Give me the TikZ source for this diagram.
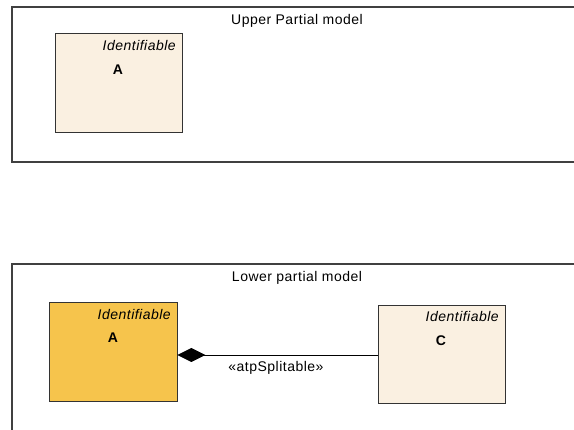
\documentclass[tikz,border=0pt]{standalone}
\usepackage{fontspec}
\setmainfont[LetterSpace=3.5]{Liberation Sans}
\usetikzlibrary{arrows.meta}
\definecolor{beige}{HTML}{FAF0E1}
\definecolor{gold}{HTML}{F6C44C}
\definecolor{framec}{HTML}{404040}
\begin{document}
\begin{tikzpicture}[x=1pt,y=-1pt,
  framebox/.style={draw=framec,line width=1.4pt,fill=none,inner sep=0pt},
  classbox/.style={draw=black!80,line width=0.9pt,inner sep=0pt},
  stereo/.style={font=\fontsize{14}{16}\selectfont\itshape,anchor=east,inner sep=0pt},
  cname/.style={font=\fontsize{14}{16}\selectfont\bfseries,inner sep=0pt},
  lbl/.style={font=\fontsize{14}{16}\selectfont,inner sep=0pt}]
\useasboundingbox (0,0) rectangle (574,430);
\clip (0,0) rectangle (574,430);
% upper frame
\draw[framebox] (12,7) rectangle (600,162);
\node[lbl] (ut) at (297,21) {Upper Partial model};
\node[classbox,fill=beige,minimum width=127pt,minimum height=99pt] (A1) at (118.5,82.5) {};
\node[stereo] (s1) at (176,46) {Identifiable};
\node[cname] (n1) at (118,70) {A};
% lower frame
\draw[framebox] (12,264) rectangle (600,460);
\node[lbl] (lt) at (297,278) {Lower partial model};
\node[classbox,fill=gold,minimum width=128pt,minimum height=99pt] (A2) at (113,352) {};
\node[stereo] (s2) at (171,315) {Identifiable};
\node[cname] (n2) at (113,338) {A};
\node[classbox,fill=beige,minimum width=127pt,minimum height=98pt] (C) at (441.5,354) {};
\node[stereo] (s3) at (499,317) {Identifiable};
\node[cname] (n3) at (441,341) {C};
\draw[line width=0.9pt,{Diamond[length=28pt,width=14pt]}-] (A2.east |- 0,355) -- (C.west |- 0,355);
\node[lbl] (al) at (276,368) {«atpSplitable»};
\end{tikzpicture}
\end{document}
